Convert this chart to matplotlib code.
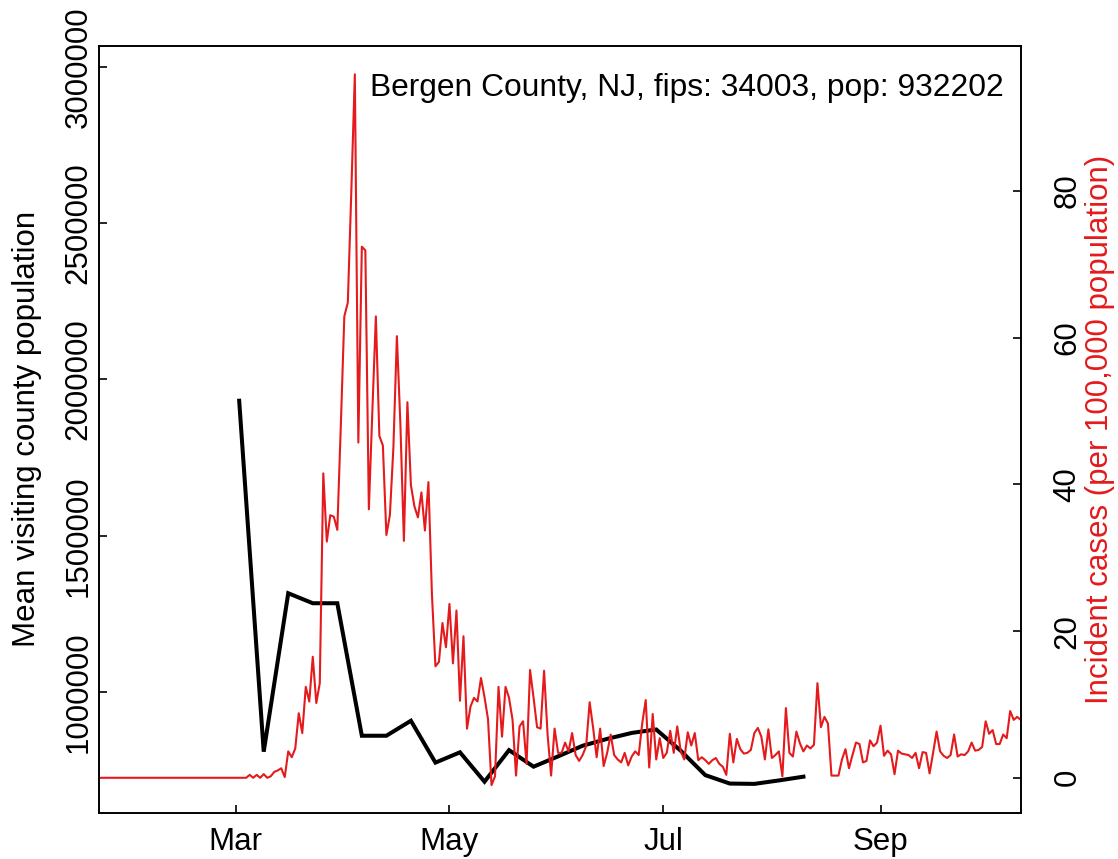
import numpy as np
import matplotlib
matplotlib.use('Agg')
import matplotlib.pyplot as plt
import matplotlib.dates as mdates

plt.rcParams['font.family'] = ['Liberation Sans', 'DejaVu Sans']

# Weekly mean visiting county population (Mondays, 2020-03-02 .. 2020-08-10)
visit_dates = np.arange('2020-03-02', '2020-08-11', 7, dtype='datetime64[D]')
visit_mean = [1932000, 809000, 1316000, 1284000, 1284000, 860000, 860000, 908000,
              774000, 807000, 713000, 814000, 761000, 794000, 828000, 850000,
              869000, 880000, 812000, 734000, 707000, 706000, 717000, 729000]

# Daily incident cases per 100,000 (2020-01-22 .. 2020-10-11)
case_dates = np.arange('2020-01-22', '2020-10-12', dtype='datetime64[D]')
cases = [
    0, 0, 0, 0, 0, 0, 0, 0, 0, 0, 0, 0, 0, 0, 0, 0, 0, 0, 0, 0, 0,
    0, 0, 0, 0, 0, 0, 0, 0, 0, 0, 0, 0, 0, 0, 0, 0, 0, 0, 0, 0, 0,
    0, 0.4, 0, 0.4, 0, 0.5, 0, 0.2, 0.8, 1.0, 1.3, 0.1,
    3.6, 2.8, 4.0, 8.8, 6.1, 12.4, 10.4, 16.5, 10.2, 12.9,
    41.5, 32.2, 35.8, 35.6, 33.8, 48.0, 62.9, 64.8, 80.0, 95.9,
    45.7, 72.4, 71.9, 36.6, 50.0, 62.9, 46.6, 45.3, 33.1, 35.8,
    45.0, 60.2, 48.2, 32.3, 51.2, 39.9, 37.0, 35.5, 38.9, 33.7,
    40.3, 25.0, 15.2, 15.8, 21.1, 17.8, 23.7, 15.6, 22.8, 10.5,
    19.3, 6.7, 9.7, 10.9, 10.4, 13.6, 11.0, 8.0, -1.0, 0.2,
    12.4, 5.6, 12.4, 10.9, 7.9, 0.3, 7.0, 7.7, 1.9, 14.7,
    10.9, 6.9, 6.7, 14.6, 5.9, 0.3, 6.7, 3.4, 3.4, 4.8,
    3.6, 6.1, 3.1, 2.3, 3.1, 4.3, 10.3, 6.8, 2.8, 6.7,
    1.6, 3.4, 5.9, 3.1, 2.5, 2.1, 3.4, 1.7, 2.9, 3.6,
    3.1, 7.4, 10.6, 1.4, 8.7, 2.5, 5.4, 2.7, 3.4, 6.4,
    3.4, 7.0, 3.6, 2.5, 6.2, 4.4, 6.1, 2.4, 2.8, 2.4,
    1.9, 2.4, 2.7, 1.9, 1.5, 0.4, 6.0, 2.1, 5.3, 3.9,
    3.3, 3.4, 3.8, 6.1, 6.8, 5.6, 2.5, 6.6, 2.7, 3.1,
    3.6, 0.2, 9.5, 3.4, 2.9, 6.3, 4.7, 3.6, 4.4, 4.0,
    4.5, 12.9, 6.9, 8.3, 7.4, 0.3, 0.3, 0.3, 2.5, 3.9,
    1.3, 3.1, 4.8, 4.6, 2.1, 2.3, 5.1, 4.3, 4.8, 7.1,
    3.0, 3.7, 3.2, 0.5, 3.7, 3.3, 3.2, 3.1, 2.7, 3.4,
    1.3, 3.5, 3.4, 0.6, 3.4, 6.3, 3.6, 3.0, 2.7, 3.1,
    5.9, 2.9, 3.2, 3.1, 3.6, 4.8, 3.7, 3.8, 4.2, 7.7,
    6.0, 6.5, 4.6, 4.6, 5.9, 5.4, 9.1, 7.9, 8.3, 7.9,
]

month_ticks = np.array(['2020-03-01', '2020-05-01', '2020-07-01', '2020-09-01'], dtype='datetime64[D]')
month_labels = ['Mar', 'May', 'Jul', 'Sep']
left_ticks = [1000000, 1500000, 2000000, 2500000, 3000000]
right_ticks = [0, 20, 40, 60, 80]

red = '#E41A1C'
W, H = 1118, 859
fig = plt.figure(figsize=(W / 100, H / 100), dpi=100)
ax = fig.add_axes([99 / W, 1 - 813 / H, 921.7 / W, 767.3 / H])

ax.plot(visit_dates, visit_mean, color='black', lw=2.9, solid_joinstyle='miter')
ax.set_xlim(case_dates[0], case_dates[-1])
ax.set_ylim(612800, 3068000)
ax.set_yticks(left_ticks)
ax.set_yticklabels([str(v) for v in left_ticks], rotation=90, va='center')
ax.set_xticks(month_ticks)
ax.set_xticklabels(month_labels)
ax.tick_params(axis='both', direction='in', length=6, width=1.2, labelsize=22.5)
ax.tick_params(axis='y', pad=4)
ax.tick_params(axis='x', pad=10)

ax2 = ax.twinx()
ax2.plot(case_dates, cases, color=red, lw=1.5)
ax2.set_ylim(-4.8, 99.8)
ax2.set_yticks(right_ticks)
ax2.set_yticklabels([str(v) for v in right_ticks], rotation=90, va='center')
ax2.tick_params(axis='y', direction='in', length=6, width=1.2, labelsize=22.5, pad=23)
ax2.set_xlim(case_dates[0], case_dates[-1])

for a in (ax, ax2):
    for s in a.spines.values():
        s.set_linewidth(1.2)

fig.text(27 / W, 1 - 429 / H, 'Mean visiting county population', rotation=90,
         ha='center', va='center', fontsize=22.5)
fig.text(1100 / W, 1 - 429 / H, 'Incident cases (per 100,000 population)', rotation=90,
         ha='center', va='center', fontsize=22.5, color=red)
fig.text(1004 / W, 1 - 88 / H, 'Bergen County, NJ, fips: 34003, pop: 932202',
         ha='right', va='center', fontsize=22.9)

fig.savefig('out.png', dpi=100)
